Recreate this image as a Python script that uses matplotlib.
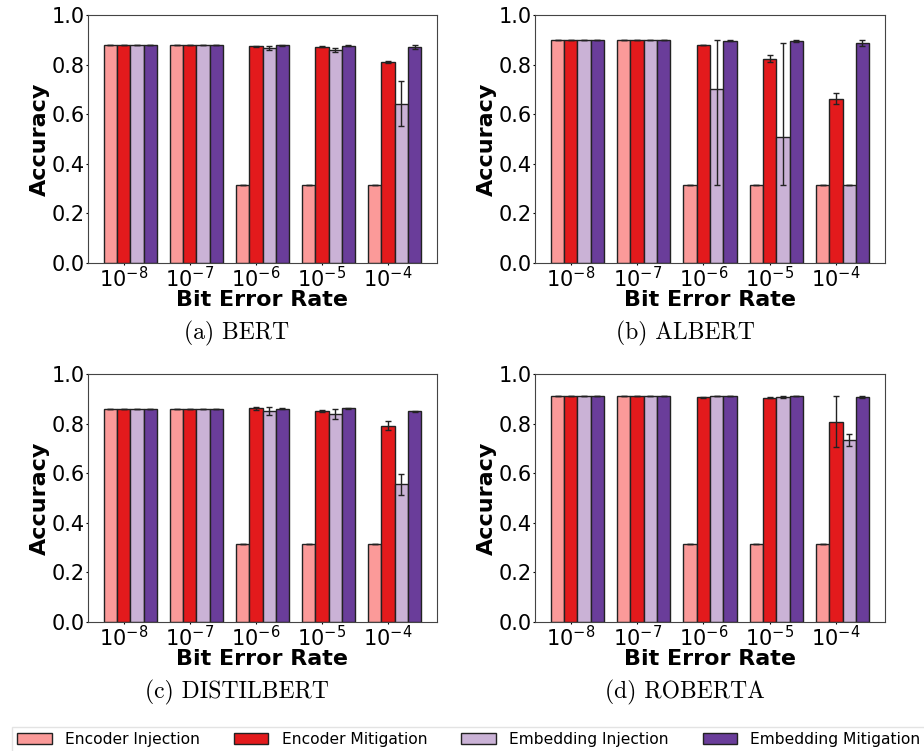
import numpy as np
import matplotlib.pyplot as plt
from matplotlib.patches import Patch

# bit error rates (x groups)
ber_labels = [r'$10^{-8}$', r'$10^{-7}$', r'$10^{-6}$', r'$10^{-5}$', r'$10^{-4}$']
series_names = ['Encoder Injection', 'Encoder Mitigation', 'Embedding Injection', 'Embedding Mitigation']
series_colors = ['#fb9a99', '#e31a1c', '#cab2d6', '#6a3d9a']

# BERT
bert_enc_inj = [0.878, 0.878, 0.316, 0.316, 0.316]
bert_enc_mit = [0.878, 0.878, 0.873, 0.871, 0.810]
bert_emb_inj = [0.878, 0.878, 0.867, 0.859, 0.642]
bert_emb_mit = [0.878, 0.878, 0.878, 0.876, 0.870]
bert_err = [[0, 0, 0, 0, 0],
            [0, 0, 0.003, 0.002, 0.004],
            [0, 0, 0.010, 0.007, 0.090],
            [0, 0, 0.001, 0.002, 0.008]]

# ALBERT
albert_enc_inj = [0.898, 0.899, 0.316, 0.316, 0.316]
albert_enc_mit = [0.898, 0.899, 0.879, 0.823, 0.663]
albert_emb_inj = [0.898, 0.898, 0.703, 0.508, 0.316]
albert_emb_mit = [0.898, 0.898, 0.896, 0.896, 0.887]
albert_err_lo = [[0, 0, 0, 0, 0],
                 [0, 0, 0.001, 0.014, 0.021],
                 [0, 0, 0.387, 0.192, 0],
                 [0, 0, 0.002, 0.003, 0.011]]
albert_err_hi = [[0, 0, 0, 0, 0],
                 [0, 0, 0.001, 0.014, 0.021],
                 [0, 0, 0.195, 0.381, 0],
                 [0, 0, 0.002, 0.003, 0.011]]

# DISTILBERT
distil_enc_inj = [0.860, 0.860, 0.316, 0.316, 0.316]
distil_enc_mit = [0.860, 0.860, 0.861, 0.851, 0.792]
distil_emb_inj = [0.860, 0.860, 0.849, 0.838, 0.556]
distil_emb_mit = [0.860, 0.860, 0.860, 0.861, 0.849]
distil_err = [[0, 0, 0, 0, 0],
              [0, 0, 0.005, 0.004, 0.018],
              [0, 0, 0.016, 0.020, 0.042],
              [0, 0, 0.001, 0.002, 0.003]]

# ROBERTA
roberta_enc_inj = [0.913, 0.913, 0.316, 0.316, 0.316]
roberta_enc_mit = [0.913, 0.913, 0.907, 0.905, 0.808]
roberta_emb_inj = [0.913, 0.913, 0.911, 0.907, 0.734]
roberta_emb_mit = [0.913, 0.913, 0.911, 0.911, 0.907]
roberta_err = [[0, 0, 0, 0, 0],
               [0, 0, 0.002, 0.002, 0.104],
               [0, 0, 0.001, 0.003, 0.026],
               [0, 0, 0.001, 0.001, 0.003]]

captions = ['(a) BERT', '(b) ALBERT', '(c) DISTILBERT', '(d) ROBERTA']
models = [
    ([bert_enc_inj, bert_enc_mit, bert_emb_inj, bert_emb_mit], bert_err, bert_err),
    ([albert_enc_inj, albert_enc_mit, albert_emb_inj, albert_emb_mit], albert_err_lo, albert_err_hi),
    ([distil_enc_inj, distil_enc_mit, distil_emb_inj, distil_emb_mit], distil_err, distil_err),
    ([roberta_enc_inj, roberta_enc_mit, roberta_emb_inj, roberta_emb_mit], roberta_err, roberta_err),
]

W, H = 924, 751
fig = plt.figure(figsize=(W / 100, H / 100), dpi=100)

# axes boxes in pixels: left, top, right, bottom
boxes = [(88, 15, 437, 263), (535, 15, 885, 263),
         (88, 374, 437, 622), (535, 374, 885, 622)]
cap_pos = [(237, 333), (685, 333), (237, 692), (685, 692)]

x = np.arange(len(ber_labels))
w = 0.2
for k, (vals, elo, ehi) in enumerate(models):
    l, t, r, b = boxes[k]
    ax = fig.add_axes([l / W, 1 - b / H, (r - l) / W, (b - t) / H])
    for i in range(4):
        ax.bar(x + (i - 1) * w, vals[i], w, color=series_colors[i],
               edgecolor='#222222', linewidth=1.0,
               yerr=[elo[i], ehi[i]], capsize=2.5,
               error_kw=dict(ecolor='#222222', elinewidth=1, capthick=1))
    ax.set_ylim(0, 1.0)
    ax.set_yticks([0, 0.2, 0.4, 0.6, 0.8, 1.0])
    ax.set_xticks(x)
    ax.set_xticklabels(ber_labels)
    ax.tick_params(labelsize=15, length=1.5, pad=1)
    ax.set_ylabel('Accuracy', fontsize=16, fontweight='bold', labelpad=1)
    ax.set_xlabel('Bit Error Rate', fontsize=16, fontweight='bold', labelpad=-1)
    for s in ax.spines.values():
        s.set_color('#444444')
    cx, cy = cap_pos[k]
    fig.text(cx / W, 1 - cy / H, captions[k], family='cmr10', fontsize=17,
             ha='center', va='center')

handles = [Patch(facecolor=c, edgecolor='#222222', label=n)
           for c, n in zip(series_colors, series_names)]
fig.legend(handles=handles, loc='lower left', ncol=4, fontsize=11.2,
           bbox_to_anchor=(12 / W, -0.002), frameon=True,
           fancybox=False, edgecolor='#dddddd', columnspacing=2.2,
           handlelength=2.2, handletextpad=0.85, borderpad=0.35,
           borderaxespad=0)

fig.savefig('out.png', dpi=100)
